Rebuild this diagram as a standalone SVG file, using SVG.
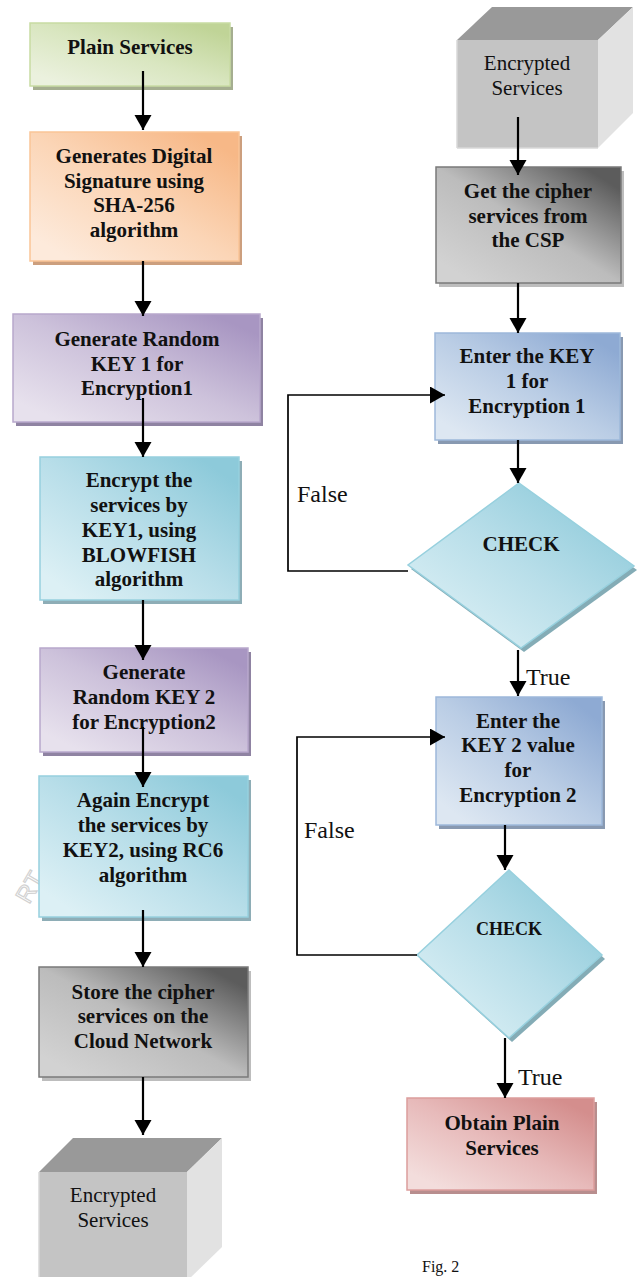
<svg xmlns="http://www.w3.org/2000/svg" width="641" height="1277" viewBox="0 0 641 1277">
<style>
.t{font-family:"Liberation Serif","Times New Roman",serif;font-weight:bold;font-size:21px;fill:#111;text-anchor:middle}
.r{font-family:"Liberation Serif","Times New Roman",serif;font-size:21px;fill:#111;text-anchor:middle}
.lbl{font-family:"Liberation Serif","Times New Roman",serif;font-size:24px;fill:#111}
.conn{stroke:#000;stroke-width:2.2;fill:none}
.loop{stroke:#000;stroke-width:1.7;fill:none}
.box{stroke-width:1.5}
.wm{font-family:"Liberation Sans",Arial,sans-serif;font-size:24px;fill:none;stroke:#d2d2d2;stroke-width:1.2}
</style>
<defs>
<marker id="ah" markerUnits="userSpaceOnUse" markerWidth="16" markerHeight="18" refX="15" refY="8.5" orient="auto">
<path d="M0,0 L15,8.5 L0,17 z" fill="#000"/>
</marker>
<linearGradient id="gGreen" x1="0.1" y1="0.9" x2="0.9" y2="0.1"><stop offset="0" stop-color="#ebf1de"/><stop offset="0.5" stop-color="#d9e6c0"/><stop offset="1" stop-color="#c0d497"/></linearGradient>
<linearGradient id="gOrange" x1="0.1" y1="0.9" x2="0.9" y2="0.1"><stop offset="0" stop-color="#fdeadb"/><stop offset="0.5" stop-color="#fbd5b6"/><stop offset="1" stop-color="#f7b887"/></linearGradient>
<linearGradient id="gPurple" x1="0.1" y1="0.9" x2="0.9" y2="0.1"><stop offset="0" stop-color="#e7e1ed"/><stop offset="0.5" stop-color="#cdc2db"/><stop offset="1" stop-color="#a896c2"/></linearGradient>
<linearGradient id="gCyan" x1="0.1" y1="0.9" x2="0.9" y2="0.1"><stop offset="0" stop-color="#dcf0f5"/><stop offset="0.5" stop-color="#b8dee9"/><stop offset="1" stop-color="#8dcada"/></linearGradient>
<linearGradient id="gGray" x1="0.1" y1="0.9" x2="0.9" y2="0.1"><stop offset="0" stop-color="#d2d2d2"/><stop offset="0.5" stop-color="#bcbcbc"/><stop offset="1" stop-color="#5c5c5c"/></linearGradient>
<linearGradient id="gBlue" x1="0.1" y1="0.9" x2="0.9" y2="0.1"><stop offset="0" stop-color="#dde7f2"/><stop offset="0.5" stop-color="#bacde5"/><stop offset="1" stop-color="#8eaad3"/></linearGradient>
<linearGradient id="gRed" x1="0.1" y1="0.9" x2="0.9" y2="0.1"><stop offset="0" stop-color="#f3dddc"/><stop offset="0.5" stop-color="#e7baba"/><stop offset="1" stop-color="#d48e8d"/></linearGradient>
</defs>
<rect width="641" height="1277" fill="#fff"/>

<g id="watermark"><text class="wm" transform="translate(29,905) rotate(-60)">RT</text></g>

<g id="n-plain">
<rect x="33" y="27" width="200" height="63" fill="#a5ae90"/>
<rect class="box" x="30" y="23" width="200" height="63" fill="url(#gGreen)" stroke="#c8dba3"/>
<text class="t" x="130" y="54">Plain Services</text>
</g>
<g id="n-sign">
<rect x="33" y="136" width="209" height="129" fill="#cc9f7e"/>
<rect class="box" x="30" y="132" width="209" height="129" fill="url(#gOrange)" stroke="#fac597"/>
<text class="t" x="134" y="163">Generates Digital</text>
<text class="t" x="134" y="188">Signature using</text>
<text class="t" x="134" y="212">SHA-256</text>
<text class="t" x="134" y="237">algorithm</text>
</g>
<g id="n-key1">
<rect x="16" y="318" width="247" height="108" fill="#8f83a2"/>
<rect class="box" x="13" y="314" width="247" height="108" fill="url(#gPurple)" stroke="#b8a8cc"/>
<text class="t" x="137" y="346">Generate Random</text>
<text class="t" x="137" y="371">KEY 1 for</text>
<text class="t" x="137" y="395">Encryption1</text>
</g>
<g id="n-enc1">
<rect x="43" y="461" width="199" height="143" fill="#8eadb6"/>
<rect class="box" x="40" y="457" width="199" height="143" fill="url(#gCyan)" stroke="#97d0de"/>
<text class="t" x="139" y="487">Encrypt the</text>
<text class="t" x="139" y="512">services by</text>
<text class="t" x="139" y="537">KEY1, using</text>
<text class="t" x="139" y="562">BLOWFISH</text>
<text class="t" x="139" y="586">algorithm</text>
</g>
<g id="n-key2">
<rect x="43" y="652" width="208" height="104" fill="#8f83a2"/>
<rect class="box" x="40" y="648" width="208" height="104" fill="url(#gPurple)" stroke="#b8a8cc"/>
<text class="t" x="144" y="679">Generate</text>
<text class="t" x="144" y="704">Random KEY 2</text>
<text class="t" x="144" y="729">for Encryption2</text>
</g>
<g id="n-enc2">
<rect x="42" y="780" width="209" height="141" fill="#8eadb6"/>
<rect class="box" x="39" y="776" width="209" height="141" fill="url(#gCyan)" stroke="#97d0de"/>
<text class="t" x="143" y="807">Again Encrypt</text>
<text class="t" x="143" y="832">the services by</text>
<text class="t" x="143" y="857">KEY2, using RC6</text>
<text class="t" x="143" y="882">algorithm</text>
</g>
<g id="n-store">
<rect x="42" y="971" width="209" height="110" fill="#bdbdbd"/>
<rect class="box" x="39" y="967" width="209" height="110" fill="url(#gGray)" stroke="#7a7a7a"/>
<text class="t" x="143" y="999">Store the cipher</text>
<text class="t" x="143" y="1023">services on the</text>
<text class="t" x="143" y="1048">Cloud Network</text>
</g>
<g id="n-cube-bottom">
<polygon points="39,1172 73,1138 222,1138 187,1172" fill="#999"/>
<polygon points="187,1172 222,1138 222,1247 187,1281" fill="#e2e2e2"/>
<rect x="39" y="1172" width="148" height="110" fill="#c4c4c4"/>
<line x1="39" y1="1172" x2="39" y2="1282" stroke="#d8d8d8" stroke-width="1.5"/>
<text class="r" x="113" y="1202">Encrypted</text>
<text class="r" x="113" y="1227">Services</text>
</g>

<g id="n-cube-top">
<polygon points="457,40 492,7 633,7 598,40" fill="#999"/>
<polygon points="598,40 633,7 633,113 598,148" fill="#e2e2e2"/>
<rect x="457" y="40" width="141" height="108" fill="#c4c4c4"/>
<line x1="457" y1="40" x2="457" y2="148" stroke="#d8d8d8" stroke-width="1.5"/>
<line x1="457" y1="148" x2="598" y2="148" stroke="#d8d8d8" stroke-width="1.5"/>
<text class="r" x="527" y="70">Encrypted</text>
<text class="r" x="527" y="95">Services</text>
</g>
<g id="n-get">
<rect x="439" y="171" width="185" height="116" fill="#bdbdbd"/>
<rect class="box" x="436" y="167" width="185" height="116" fill="url(#gGray)" stroke="#7a7a7a"/>
<text class="t" x="528" y="198">Get the cipher</text>
<text class="t" x="528" y="223">services from</text>
<text class="t" x="528" y="247">the CSP</text>
</g>
<g id="n-enterkey1">
<rect x="438" y="337" width="185" height="107" fill="#8899b1"/>
<rect class="box" x="435" y="333" width="185" height="107" fill="url(#gBlue)" stroke="#9db8da"/>
<text class="t" x="527" y="363">Enter the KEY</text>
<text class="t" x="527" y="388">1 for</text>
<text class="t" x="527" y="413">Encryption 1</text>
</g>
<g id="n-check1">
<polygon points="522,487 637,570 524,652 411,569" fill="#84acb6"/>
<polygon class="box" points="519,483 634,566 521,648 408,565" fill="url(#gCyan)" stroke="#97d0de"/>
<text class="t" x="521" y="551">CHECK</text>
</g>
<g id="n-enterkey2">
<rect x="439" y="701" width="166" height="128" fill="#8899b1"/>
<rect class="box" x="436" y="697" width="166" height="128" fill="url(#gBlue)" stroke="#9db8da"/>
<text class="t" x="518" y="728">Enter the</text>
<text class="t" x="518" y="752">KEY 2 value</text>
<text class="t" x="518" y="777">for</text>
<text class="t" x="518" y="802">Encryption 2</text>
</g>
<g id="n-check2">
<polygon points="512,874 605,959 512,1042 420,959" fill="#84acb6"/>
<polygon class="box" points="509,870 602,955 509,1038 417,955" fill="url(#gCyan)" stroke="#97d0de"/>
<text class="t" x="509" y="935" style="font-size:18px">CHECK</text>
</g>
<g id="n-obtain">
<rect x="410" y="1102" width="187" height="92" fill="#b88e8e"/>
<rect class="box" x="407" y="1098" width="187" height="92" fill="url(#gRed)" stroke="#dc9d9c"/>
<text class="t" x="502" y="1130">Obtain Plain</text>
<text class="t" x="502" y="1155">Services</text>
</g>

<g id="connectors">
<line class="conn" x1="143" y1="71" x2="143" y2="130" marker-end="url(#ah)"/>
<line class="conn" x1="143" y1="261" x2="143" y2="316" marker-end="url(#ah)"/>
<line class="conn" x1="143" y1="398" x2="143" y2="457" marker-end="url(#ah)"/>
<line class="conn" x1="143" y1="600" x2="143" y2="660" marker-end="url(#ah)"/>
<line class="conn" x1="143" y1="727" x2="143" y2="787" marker-end="url(#ah)"/>
<line class="conn" x1="143" y1="910" x2="143" y2="967" marker-end="url(#ah)"/>
<line class="conn" x1="143" y1="1077" x2="143" y2="1135" marker-end="url(#ah)"/>
<line class="conn" x1="518" y1="117" x2="518" y2="175" marker-end="url(#ah)"/>
<line class="conn" x1="518" y1="283" x2="518" y2="333" marker-end="url(#ah)"/>
<line class="conn" x1="518" y1="440" x2="518" y2="483" marker-end="url(#ah)"/>
<line class="conn" x1="518" y1="650" x2="518" y2="696" marker-end="url(#ah)"/>
<line class="conn" x1="505" y1="825" x2="505" y2="870" marker-end="url(#ah)"/>
<line class="conn" x1="505" y1="1038" x2="505" y2="1098" marker-end="url(#ah)"/>
<polyline class="loop" points="408,571 288,571 288,395 445,395" marker-end="url(#ah)"/>
<polyline class="loop" points="417,955 297,955 297,737 445,737" marker-end="url(#ah)"/>
<text class="lbl" x="297" y="502">False</text>
<text class="lbl" x="526" y="685">True</text>
<text class="lbl" x="304" y="838">False</text>
<text class="lbl" x="518" y="1085">True</text>
</g>

<text class="r" x="422" y="1272" style="text-anchor:start;font-size:16px">Fig. 2</text>
</svg>
